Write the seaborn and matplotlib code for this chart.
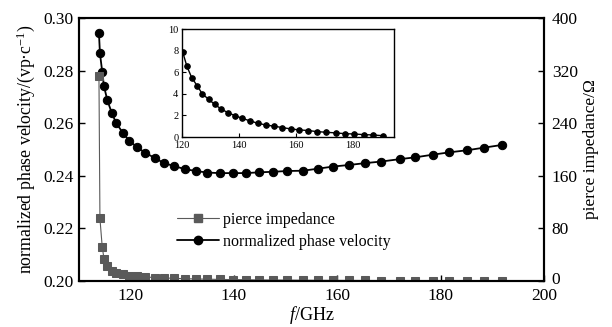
import matplotlib
matplotlib.use("Agg")
import matplotlib.pyplot as plt
import matplotlib.transforms as mtransforms
import seaborn as sns
import numpy as np
import pandas as pd
from matplotlib.lines import Line2D

# ---- data ----
freq = [113.87, 114.06, 114.5, 114.84, 115.48, 116.33, 117.16, 118.46, 119.74, 121.28,
        122.77, 124.71, 126.45, 128.39, 130.51, 132.64, 134.83, 137.29, 139.75, 142.32,
        144.9, 147.55, 150.35, 153.35, 156.31, 159.22, 162.31, 165.41, 168.51, 172.03,
        175.09, 178.45, 181.67, 185.15, 188.44, 191.81]
phase_velocity = [0.2942, 0.2866, 0.2796, 0.2741, 0.2688, 0.2640, 0.2602, 0.2564, 0.2533, 0.2508,
                  0.2488, 0.2467, 0.2448, 0.2437, 0.2425, 0.2418, 0.2412, 0.2410, 0.2410, 0.2410,
                  0.2413, 0.2415, 0.2418, 0.2419, 0.2427, 0.2435, 0.2441, 0.2448, 0.2454, 0.2463,
                  0.2470, 0.2480, 0.2489, 0.2497, 0.2507, 0.2517]
pierce_impedance = [312, 95, 52, 34, 22, 15, 12, 10, 8.2, 7.0,
                    6.0, 5.1, 4.5, 3.9, 3.4, 2.9, 2.6, 2.2, 2.0, 1.75,
                    1.5, 1.35, 1.2, 1.05, 0.9, 0.8, 0.7, 0.62, 0.55, 0.48,
                    0.42, 0.36, 0.3, 0.25, 0.2, 0.15]

inset_freq = [120.3, 121.8, 123.5, 125.4, 127.2, 129.4, 131.5, 133.8, 136.2, 138.8,
              141.3, 143.9, 146.6, 149.4, 152.4, 155.2, 158.2, 161.2, 164.4, 167.4,
              170.7, 174.0, 177.2, 180.5, 183.9, 187.2, 190.6]
inset_impedance = [7.9, 6.55, 5.5, 4.75, 4.0, 3.5, 3.03, 2.6, 2.25, 1.97,
                   1.72, 1.5, 1.28, 1.12, 1.0, 0.88, 0.75, 0.66, 0.6, 0.5,
                   0.44, 0.38, 0.31, 0.28, 0.22, 0.19, 0.12]

x_ticks = [120, 140, 160, 180, 200]
left_ticks = [0.20, 0.22, 0.24, 0.26, 0.28, 0.30]
right_ticks = [0, 80, 160, 240, 320, 400]
inset_xticks = [120, 140, 160, 180]
inset_yticks = [0, 2, 4, 6, 8, 10]

# ---- style ----
sns.set_style("ticks")
plt.rcParams['font.family'] = ['Liberation Serif', 'DejaVu Serif']
plt.rcParams['mathtext.fontset'] = 'custom'
plt.rcParams['mathtext.rm'] = 'Liberation Serif'
plt.rcParams['mathtext.it'] = 'Liberation Serif:italic'
plt.rcParams['axes.edgecolor'] = 'black'
plt.rcParams['xtick.color'] = 'black'
plt.rcParams['ytick.color'] = 'black'
plt.rcParams['text.color'] = 'black'
plt.rcParams['axes.labelcolor'] = 'black'

df_main = pd.DataFrame({"f": freq, "v": phase_velocity, "K": pierce_impedance})
df_inset = pd.DataFrame({"f": inset_freq, "K": inset_impedance})

fig = plt.figure(figsize=(6.12, 3.27), dpi=100)
ax = fig.add_axes([0.129, 0.141, 0.760, 0.804])
ax2 = ax.twinx()

gray = '#5a5a5a'
sns.lineplot(data=df_main, x="f", y="v", ax=ax, color='black', marker='o',
             markersize=6, markeredgecolor='black', linewidth=1.3, legend=False)
sns.lineplot(data=df_main, x="f", y="K", ax=ax2, color=gray, marker='s',
             markersize=5.5, markeredgecolor=gray, linewidth=0.8, legend=False)

ax.set_xlim(110, 200)
ax.set_ylim(0.20, 0.30)
ax2.set_ylim(0, 400)
ax.set_xticks(x_ticks)
ax.set_yticks(left_ticks)
ax.set_yticklabels([f"{t:.2f}" for t in left_ticks])
ax2.set_yticks(right_ticks)

ax.tick_params(axis='y', direction='in', length=4, width=1, labelsize=12.5, pad=4)
ax.tick_params(axis='x', direction='in', length=4, width=1, labelsize=12.5, pad=5)
ax2.tick_params(direction='in', length=4, width=1, labelsize=12.5, pad=5.5)
for a in (ax, ax2):
    for s in a.spines.values():
        s.set_linewidth(1.5)
        s.set_color('black')

# lift the right-axis "0" a touch so it sits beside the "200" label
zero_lbl = ax2.get_yticklabels()[0]
zero_lbl.set_transform(zero_lbl.get_transform() +
                       mtransforms.ScaledTranslation(0, 2 / 72, fig.dpi_scale_trans))

ax.set_xlabel('$f$/GHz', fontsize=13, labelpad=0)
ax.set_ylabel('normalized phase velocity/(vp·c$^{\\mathrm{-1}}$)', fontsize=12.8, labelpad=4)
ax2.set_ylabel('pierce impedance/Ω', fontsize=12.5, labelpad=3.5)

h1 = Line2D([], [], color=gray, marker='s', markersize=5.5, linewidth=0.8)
h2 = Line2D([], [], color='black', marker='o', markersize=6, linewidth=1.3)
ax2.legend([h1, h2], ['pierce impedance', 'normalized phase velocity'],
           loc='upper left', bbox_to_anchor=(0.211, 0.262), frameon=False,
           fontsize=11.5, handlelength=2.6, handletextpad=0.25, labelspacing=0.35,
           borderpad=0, borderaxespad=0)

# ---- inset ----
axi = fig.add_axes([0.297, 0.581, 0.347, 0.330])
sns.lineplot(data=df_inset, x="f", y="K", ax=axi, color='black', marker='o',
             markersize=4, markeredgecolor='black', linewidth=1.0, legend=False)
axi.set_xlim(120, 194.5)
axi.set_ylim(0, 10)
axi.set_xticks(inset_xticks)
axi.set_yticks(inset_yticks)
axi.set_xlabel('')
axi.set_ylabel('')
axi.tick_params(axis='x', direction='in', length=3, width=0.8, labelsize=7.5, pad=3)
axi.tick_params(axis='y', direction='in', length=3, width=0.8, labelsize=7.5, pad=2.5)
for s in axi.spines.values():
    s.set_linewidth(1.0)
    s.set_color('black')

fig.savefig('out.png', dpi=100)
